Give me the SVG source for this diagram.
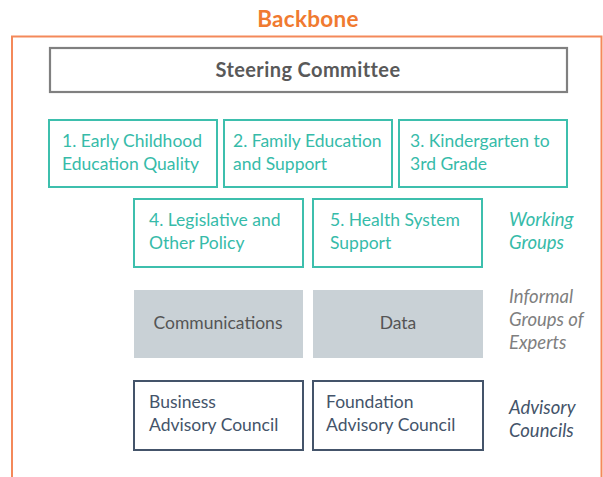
<svg xmlns="http://www.w3.org/2000/svg" width="603" height="477" viewBox="0 0 603 477">
<style>
text{font-family:Lato,"Open Sans","Liberation Sans",sans-serif;font-size:17.5px}
.wg rect{fill:#fff;stroke:#3dbfad;stroke-width:2}
.wg text{fill:#36bba9}
.ex rect{fill:#c9d1d6;stroke:none}
.ex text{fill:#555;text-anchor:middle}
.ac rect{fill:#fff;stroke:#44546a;stroke-width:2}
.ac text{fill:#44546a}
.lbl{font-style:italic;font-size:18.5px}
</style>
<rect width="603" height="477" fill="#fff"/>
<g id="backbone">
<path d="M12 477 V36.5 H601.5 V477" fill="none" stroke="#f4895a" stroke-width="2"/>
<text x="308" y="27" text-anchor="middle" style="font-weight:bold;font-size:22.5px;letter-spacing:0.3px;fill:#f07a30">Backbone</text>
</g>
<g id="steering">
<rect x="50" y="48" width="517" height="44" fill="#fff" stroke="#808080" stroke-width="2.2"/>
<text x="308" y="77" text-anchor="middle" style="font-weight:bold;font-size:20px;letter-spacing:0.4px;fill:#595959">Steering Committee</text>
</g>
<g id="wg1" class="wg"><rect x="49" y="120" width="168" height="67"/><text x="62" y="147">1. Early Childhood</text><text x="62" y="170">Education Quality</text></g>
<g id="wg2" class="wg"><rect x="224" y="120" width="168" height="67"/><text x="233" y="147">2. Family Education</text><text x="233" y="170">and Support</text></g>
<g id="wg3" class="wg"><rect x="399" y="120" width="168" height="67"/><text x="410" y="147">3. Kindergarten to</text><text x="410" y="170">3rd Grade</text></g>
<g id="wg4" class="wg"><rect x="134" y="199" width="169" height="68"/><text x="149" y="226">4. Legislative and</text><text x="149" y="249">Other Policy</text></g>
<g id="wg5" class="wg"><rect x="313" y="199" width="169" height="68"/><text x="330" y="226">5. Health System</text><text x="330" y="249">Support</text></g>
<g id="lbl-wg"><text class="lbl" x="509" y="226" fill="#36bba9">Working</text><text class="lbl" x="509" y="249" fill="#36bba9">Groups</text></g>
<g id="ex1" class="ex"><rect x="134" y="290" width="169" height="68"/><text x="218" y="329">Communications</text></g>
<g id="ex2" class="ex"><rect x="313" y="290" width="170" height="68"/><text x="398" y="329">Data</text></g>
<g id="lbl-ex"><text class="lbl" x="509" y="303" fill="#7f7f7f">Informal</text><text class="lbl" x="509" y="326" fill="#7f7f7f">Groups of</text><text class="lbl" x="509" y="349" fill="#7f7f7f">Experts</text></g>
<g id="ac1" class="ac"><rect x="134" y="381" width="169" height="69"/><text x="149" y="408">Business</text><text x="149" y="431">Advisory Council</text></g>
<g id="ac2" class="ac"><rect x="313" y="381" width="170" height="69"/><text x="326" y="408">Foundation</text><text x="326" y="431">Advisory Council</text></g>
<g id="lbl-ac"><text class="lbl" x="509" y="414" fill="#44546a">Advisory</text><text class="lbl" x="509" y="437" fill="#44546a">Councils</text></g>
<g id="connectors"/>
</svg>
